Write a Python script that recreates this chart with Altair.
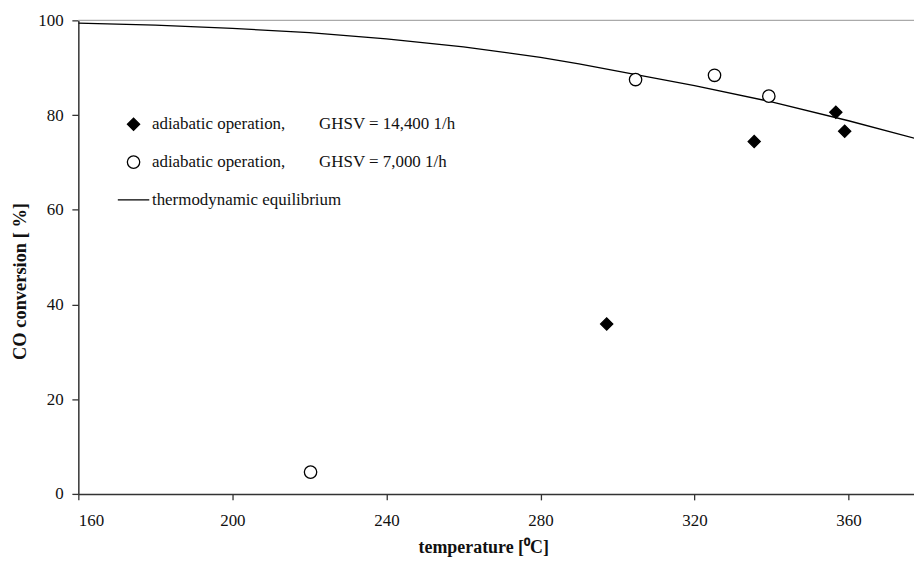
import altair as alt
import pandas as pd

# thermodynamic equilibrium curve
eq_temp = [160, 180, 200, 220, 240, 260, 280, 290, 300, 320, 340, 360, 380]
eq_conv = [99.4, 99.0, 98.3, 97.4, 96.1, 94.4, 92.2, 90.8, 89.3, 86.2, 82.8, 78.8, 74.5]

# adiabatic operation, GHSV = 14,400 1/h
hi_temp = [297.2, 335.5, 356.7, 359.0]
hi_conv = [35.9, 74.4, 80.6, 76.6]

# adiabatic operation, GHSV = 7,000 1/h
lo_temp = [220.3, 304.7, 325.2, 339.3]
lo_conv = [4.6, 87.5, 88.4, 84.0]

frame_top = [100]
x_ticks = [160, 200, 240, 280, 320, 360]
y_ticks = [0, 20, 40, 60, 80, 100]

NB = "\u00a0"
lab_hi = "adiabatic operation," + NB * 8 + "GHSV = 14,400 1/h"
lab_lo = "adiabatic operation," + NB * 8 + "GHSV = 7,000 1/h"
lab_eq = "thermodynamic equilibrium"
series = [lab_hi, lab_lo, lab_eq]

pts = pd.DataFrame({
    "T": hi_temp + lo_temp,
    "X": hi_conv + lo_conv,
    "s": [lab_hi] * len(hi_temp) + [lab_lo] * len(lo_temp),
})
eq = pd.DataFrame({"T": eq_temp, "X": eq_conv})
top = pd.DataFrame({"X": frame_top})

FONT = "Liberation Serif"

x_scale = alt.Scale(domain=[160, 377], nice=False, zero=False)
y_scale = alt.Scale(domain=[0, 100], nice=False, zero=False)

x_axis = alt.Axis(values=x_ticks, grid=False, tickSize=6, labelPadding=13,
                  title="temperature [\u2070C]", titleX=407, titleY=54,
                  titleFontSize=18,
                  titleBaseline="middle", titleAlign="center", titleAnchor="start")
y_axis = alt.Axis(values=y_ticks, grid=False, tickSize=6.5, labelPadding=8.7,
                  title="CO conversion [ %]", titleX=-59.5, titleY=262,
                  titleFontSize=18.5,
                  titleBaseline="middle", titleAlign="center", titleAnchor="start",
                  titleAngle=-90)

xenc = alt.X("T:Q", scale=x_scale, axis=x_axis)
yenc = alt.Y("X:Q", scale=y_scale, axis=y_axis)

leg = alt.Legend(title=None, orient="none", legendX=47, legendY=96)

line = alt.Chart(eq).mark_line(color="black", strokeWidth=1.3, clip=True).encode(
    x=xenc, y=yenc
)

rule = alt.Chart(top).mark_rule(color="#aaaaaa", strokeWidth=1.2).encode(y=yenc)

points = alt.Chart(pts).mark_point(strokeWidth=1.3, opacity=1,
                                   fillOpacity=1).encode(
    x=xenc,
    y=yenc,
    shape=alt.Shape("s:N", scale=alt.Scale(domain=series,
                                           range=["diamond", "circle", "M-2.5,0H2.5"]),
                    legend=leg),
    fill=alt.Fill("s:N", scale=alt.Scale(domain=series,
                                         range=["black", "white", "transparent"]),
                  legend=leg),
    stroke=alt.Stroke("s:N", scale=alt.Scale(domain=series,
                                             range=["black", "black", "black"]),
                      legend=leg),
    size=alt.Size("s:N", scale=alt.Scale(domain=series, range=[150, 160, 110]),
                  legend=leg),
)

chart = alt.layer(rule, line, points).properties(
    width=840, height=476,
    autosize=alt.AutoSizeParams(type="none"),
    padding={"left": 70.7, "top": 11, "right": 0, "bottom": 62},
).configure_view(stroke=None).configure_axis(
    labelFont=FONT, labelFontSize=17, labelColor="#111",
    titleFont=FONT, titleFontSize=17, titleFontWeight="bold", titleColor="#111",
    domainColor="#333", domainWidth=1.5, tickColor="#333", tickWidth=1.3,
).configure_legend(
    labelFont=FONT, labelFontSize=17, labelColor="#111", labelLimit=600,
    symbolStrokeColor="black", symbolStrokeWidth=1.3, symbolOpacity=1,
    rowPadding=19, labelOffset=10, padding=0,
)

chart.save("out.html", embed_options={"renderer": "svg", "actions": False})
